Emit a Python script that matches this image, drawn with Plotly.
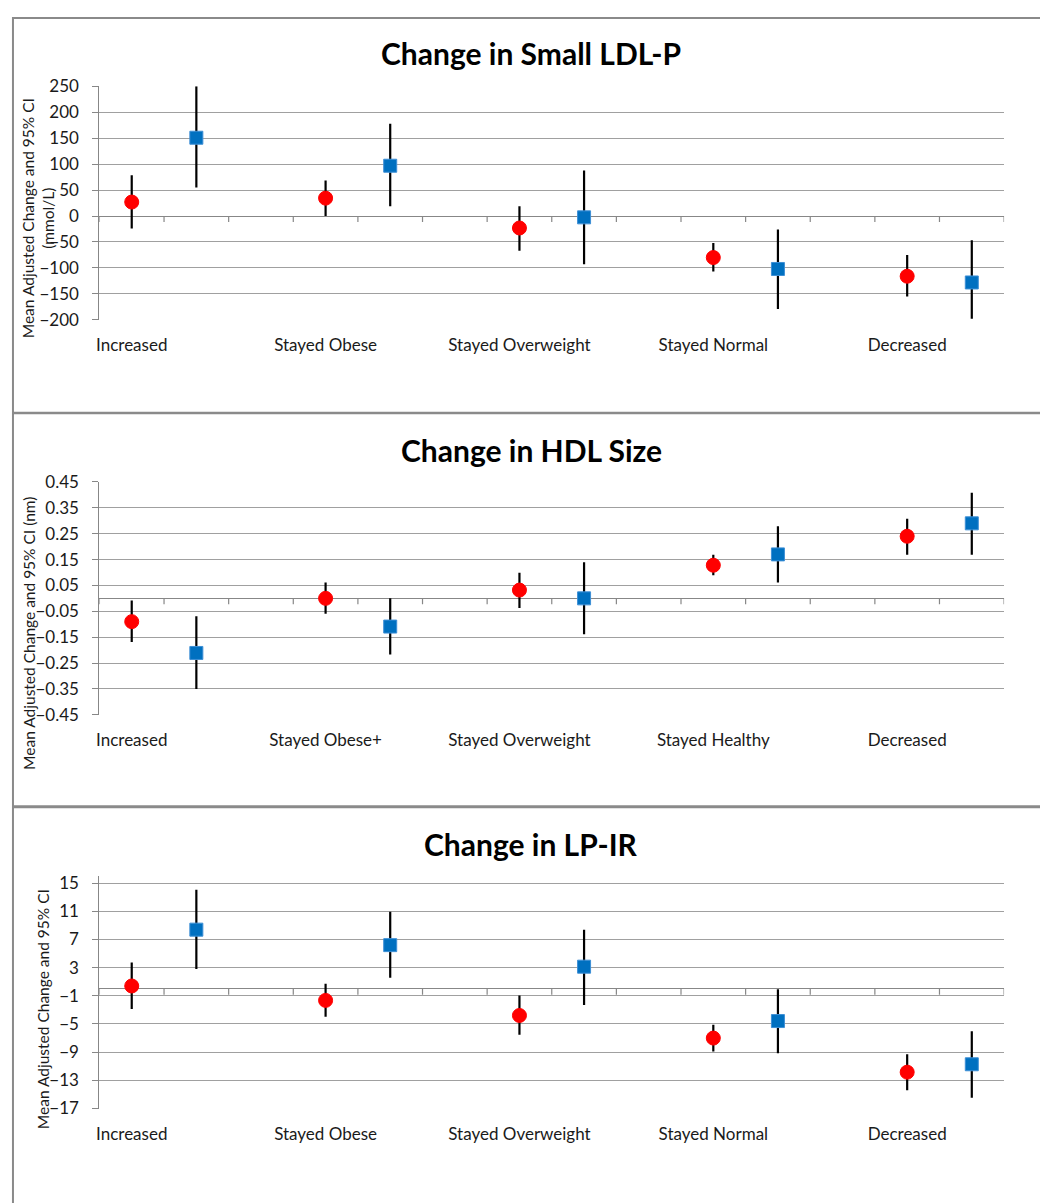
import plotly.graph_objects as go

# ---------------- data ----------------
n_slots = 14
red_x = [0, 3, 6, 9, 12]
blue_x = [1, 4, 7, 10, 13]

ldl_labels = ["Increased", "Stayed Obese", "Stayed Overweight", "Stayed Normal", "Decreased"]
ldl_red = [27, 34.5, -23, -80, -116]
ldl_red_hi = [78.5, 68.5, 19, -52, -75]
ldl_red_lo = [-24, 0, -67, -107, -155]
ldl_blue = [151, 97, -2.5, -102, -128]
ldl_blue_hi = [250, 178, 88, -26, -46.5]
ldl_blue_lo = [55, 19, -93, -179, -198]

hdl_labels = ["Increased", "Stayed Obese+", "Stayed Overweight", "Stayed Healthy", "Decreased"]
hdl_red = [-0.090, 0.0, 0.032, 0.128, 0.240]
hdl_red_hi = [-0.008, 0.061, 0.099, 0.169, 0.308]
hdl_red_lo = [-0.169, -0.059, -0.037, 0.089, 0.169]
hdl_blue = [-0.211, -0.109, 0.0, 0.170, 0.290]
hdl_blue_hi = [-0.069, 0.0, 0.140, 0.279, 0.408]
hdl_blue_lo = [-0.350, -0.217, -0.139, 0.061, 0.169]

lpir_labels = ["Increased", "Stayed Obese", "Stayed Overweight", "Stayed Normal", "Decreased"]
lpir_red = [0.4, -1.65, -3.79, -7.0, -11.84]
lpir_red_hi = [3.74, 0.72, -0.95, -5.09, -9.28]
lpir_red_lo = [-2.86, -3.98, -6.53, -8.9, -14.4]
lpir_blue = [8.4, 6.2, 3.14, -4.58, -10.72]
lpir_blue_hi = [14.07, 10.95, 8.4, -0.07, -6.02]
lpir_blue_lo = [2.8, 1.56, -2.3, -9.14, -15.47]

titles = ["Change in Small LDL-P", "Change in HDL Size", "Change in LP-IR"]
ytitles = ["Mean Adjusted Change and 95% CI<br>(mmol/L)",
           "Mean Adjusted Change and 95% CI (nm)",
           "Mean Adjusted Change and 95% CI"]

# ---------------- layout helpers ----------------
W, H = 1040, 1203
FONT = "Lato, 'Open Sans', sans-serif"
TXT = "#1a1a1a"
GRID = "#a0a0a0"
AXC = "#878787"
RED = "#FF0000"
BLUE = "#0070C0"


def px_x(p):
    return p / W


def px_y(p):
    return 1 - p / H


x_dom = [px_x(96.7), px_x(1004)]
panels = [
    dict(labels=ldl_labels,
         red=(ldl_red, ldl_red_hi, ldl_red_lo), blue=(ldl_blue, ldl_blue_hi, ldl_blue_lo),
         yrange=[-200, 250], tick0=-200, dtick=50, fmt="d",
         top=76.7, bot=314.3, title_y=43, ytitle_x=35, ytitle_y=211,
         box=(7, 409)),
    dict(labels=hdl_labels,
         red=(hdl_red, hdl_red_hi, hdl_red_lo), blue=(hdl_blue, hdl_blue_hi, hdl_blue_lo),
         yrange=[-0.45, 0.45], tick0=-0.45, dtick=0.1, fmt=".2f",
         top=479.3, bot=716.3, title_y=447, ytitle_x=26, ytitle_y=633,
         box=(409.5, 809.5)),
    dict(labels=lpir_labels,
         red=(lpir_red, lpir_red_hi, lpir_red_lo), blue=(lpir_blue, lpir_blue_hi, lpir_blue_lo),
         yrange=[-17, 16], tick0=-17, dtick=4, fmt="d",
         top=880.5, bot=1117, title_y=848, ytitle_x=40, ytitle_y=1016,
         box=(810.5, 1260)),
]

fig = go.Figure()
shapes = []
annotations = []

for i, p in enumerate(panels):
    idx = "" if i == 0 else str(i + 1)
    xa, ya = "x" + idx, "y" + idx
    for (vals, hi, lo), xs, sym, col, size, lc in [
        (p["red"], red_x, "circle", RED, 14, RED),
        (p["blue"], blue_x, "square", BLUE, 13, "#3d8fd6"),
    ]:
        fig.add_trace(go.Scatter(
            x=xs, y=vals, mode="markers", xaxis=xa, yaxis=ya, showlegend=False,
            marker=dict(symbol=sym, size=size, color=col, line=dict(width=1, color=lc)),
            error_y=dict(type="data", symmetric=False,
                         array=[h - v for h, v in zip(hi, vals)],
                         arrayminus=[v - l for l, v in zip(lo, vals)],
                         color="black", thickness=2.2, width=0),
        ))
    lay_x = "xaxis" + idx
    lay_y = "yaxis" + idx
    fig.layout[lay_x] = dict(
        domain=x_dom, anchor=ya, range=[-0.5, n_slots - 0.5],
        tickmode="array", tickvals=red_x, ticktext=p["labels"],
        showgrid=False, zeroline=False, showline=False, ticks="",
        tickfont=dict(family=FONT, size=17, color=TXT), ticklabelstandoff=13,
    )
    fig.layout[lay_y] = dict(
        domain=[px_y(p["bot"]), px_y(p["top"])], anchor=xa, range=p["yrange"],
        tickmode="linear", tick0=p["tick0"], dtick=p["dtick"], tickformat=p["fmt"],
        showgrid=True, gridcolor=GRID, gridwidth=1,
        zeroline=True, zerolinecolor=AXC, zerolinewidth=1.2,
        showline=True, linecolor=AXC, linewidth=1.2,
        ticks="outside", ticklen=6, tickcolor=AXC, tickwidth=1,
        tickfont=dict(family=FONT, size=17, color=TXT), ticklabelstandoff=10,
    )
    # category boundary ticks on the horizontal axis (which crosses at 0)
    for k in range(n_slots + 1):
        shapes.append(dict(type="line", xref=xa, yref=ya, x0=k - 0.5, x1=k - 0.5,
                           ysizemode="pixel", yanchor=0, y0=0, y1=-6,
                           line=dict(color=AXC, width=1.2), layer="above"))
    # panel border
    b0, b1 = p["box"]
    shapes.append(dict(type="rect", xref="paper", yref="paper",
                       x0=px_x(10), x1=px_x(1060), y0=px_y(b1), y1=px_y(b0),
                       line=dict(color="#8a8a8a", width=2), layer="below"))
    annotations.append(dict(text="<b>" + titles[i] + "</b>", xref="paper", yref="paper",
                            x=px_x(530), y=px_y(p["title_y"]), xanchor="center", yanchor="middle",
                            showarrow=False, font=dict(family=FONT, size=30, color="black")))
    annotations.append(dict(text=ytitles[i], xref="paper", yref="paper",
                            x=px_x(p["ytitle_x"]), y=px_y(p["ytitle_y"]), xanchor="center", yanchor="middle",
                            textangle=-90, showarrow=False,
                            font=dict(family=FONT, size=15.5, color=TXT)))

fig.update_layout(
    width=W, height=H, margin=dict(l=0, r=0, t=0, b=0),
    paper_bgcolor="white", plot_bgcolor="white",
    shapes=shapes, annotations=annotations, showlegend=False,
)

fig.write_html(
    "out.html",
    config={"displayModeBar": False},
    post_script=(
        "var gd=document.getElementById('{plot_id}');"
        "gd.style.position='fixed';gd.style.top='0px';gd.style.left='0px';"
        "document.body.style.margin='0';document.body.style.overflow='hidden';"
    ),
)
